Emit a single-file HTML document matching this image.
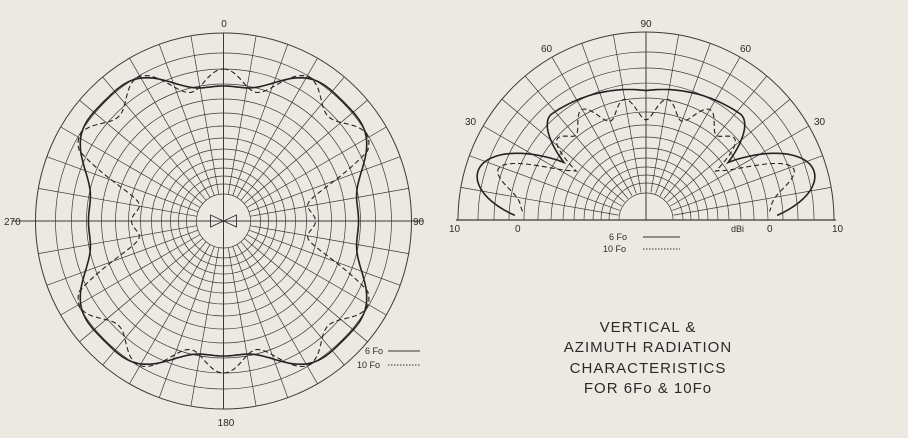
<!DOCTYPE html>
<html><head><meta charset="utf-8"><style>
html,body{margin:0;padding:0;background:#ece9e2;}
svg{display:block}
text{font-family:"Liberation Sans",sans-serif;fill:#2a2a2a}
</style></head><body>
<svg id="s" width="908" height="438" viewBox="0 0 908 438" xmlns="http://www.w3.org/2000/svg">
<rect width="908" height="438" fill="#ece9e2"/>
<g id="g"></g>
<text x="224" y="27" font-size="10" text-anchor="middle">0</text>
<text x="226" y="426" font-size="10" text-anchor="middle">180</text>
<text x="4" y="225" font-size="10">270</text>
<text x="413" y="225" font-size="10">90</text>
<text x="365" y="354" font-size="9">6 Fo</text>
<line x1="388" y1="351" x2="420" y2="351" stroke="#333" stroke-width="1"/>
<text x="357" y="368" font-size="9">10 Fo</text>
<line x1="388" y1="365" x2="420" y2="365" stroke="#333" stroke-width="1" stroke-dasharray="1.5 1.5"/>
<text x="646" y="27" font-size="10" text-anchor="middle">90</text>
<text x="541" y="52" font-size="10">60</text>
<text x="740" y="52" font-size="10">60</text>
<text x="465" y="125" font-size="10">30</text>
<text x="814" y="125" font-size="10">30</text>
<text x="449" y="232" font-size="10">10</text>
<text x="515" y="232" font-size="10">0</text>
<text x="731" y="232" font-size="9">dBi</text>
<text x="767" y="232" font-size="10">0</text>
<text x="832" y="232" font-size="10">10</text>
<text x="609" y="240" font-size="9">6 Fo</text>
<line x1="643" y1="237" x2="680" y2="237" stroke="#333" stroke-width="1"/>
<text x="603" y="252" font-size="9">10 Fo</text>
<line x1="643" y1="249" x2="680" y2="249" stroke="#333" stroke-width="1" stroke-dasharray="1.5 1.5"/>
<g font-size="15" text-anchor="middle" letter-spacing="1">
<text x="648" y="332">VERTICAL &amp;</text>
<text x="648" y="352">AZIMUTH RADIATION</text>
<text x="648" y="373">CHARACTERISTICS</text>
<text x="648" y="393">FOR 6Fo &amp; 10Fo</text>
</g>
</svg>
<script>
var g=document.getElementById('g'),h='';
var R=[27,37,45,53,62,72,83,95,108,122,137,152,168,188];
function ln(x1,y1,x2,y2,w){h+='<line x1="'+x1.toFixed(1)+'" y1="'+y1.toFixed(1)+'" x2="'+x2.toFixed(1)+'" y2="'+y2.toFixed(1)+'" stroke="#3a3a3a" stroke-width="'+(w||0.8)+'"/>';}
var cx=223.5,cy=221;
R.forEach(function(r,i){h+='<circle cx="'+cx+'" cy="'+cy+'" r="'+r+'" fill="none" stroke="#3a3a3a" stroke-width="'+(i==R.length-1?1:0.7)+'"/>';});
for(var a=0;a<360;a+=10){var t=a*Math.PI/180,s=Math.sin(t),c=-Math.cos(t);var r0=(a%90==0)?0:27;ln(cx+r0*s,cy+r0*c,cx+188*s,cy+188*c,a%90==0?1:0.7);}
ln(cx-188,cy,cx-200-12,cy,1);ln(cx+188,cy,cx+200,cy,1);
h+='<path d="M'+(cx-13)+' '+(cy-6)+'L'+cx+' '+cy+'L'+(cx-13)+' '+(cy+6)+'ZM'+(cx+13)+' '+(cy-6)+'L'+cx+' '+cy+'L'+(cx+13)+' '+(cy+6)+'Z" fill="none" stroke="#333" stroke-width="0.9"/>';
function poly(f,cx,cy,a0,a1,dash){var d='';for(var a=a0;a<=a1;a+=1){var t=a*Math.PI/180,r=f(t);d+=(d?'L':'M')+(cx+r*Math.sin(t)).toFixed(1)+' '+(cy-r*Math.cos(t)).toFixed(1);}
h+='<path d="'+d+'" fill="none" stroke="#222" stroke-width="'+(dash?1.1:1.6)+'"'+(dash?' stroke-dasharray="5 3"':'')+'/>';}
poly(function(t){return 152-20*Math.cos(4*t)+3*Math.cos(12*t);},cx,cy,0,360,false);
poly(function(t){var r=150+12*Math.cos(12*t)+10*Math.cos(4*t)*-1;var d=Math.abs(Math.sin(t));if(d>0.9)r-= (d-0.9)/0.1*60;return r;},cx,cy,0,360,true);
var ex=646,ey=220;
R.forEach(function(r,i){h+='<path d="M'+(ex-r)+' '+ey+'A'+r+' '+r+' 0 0 1 '+(ex+r)+' '+ey+'" fill="none" stroke="#3a3a3a" stroke-width="'+(i==R.length-1?1:0.7)+'"/>';});
ln(ex-190,ey,ex+190,ey,1.2);
for(var a=-90;a<=90;a+=10){var t=a*Math.PI/180,s=Math.sin(t),c=-Math.cos(t);var r0=a==0?0:28;ln(ex+r0*s,ey+r0*c,ex+188*s,ey+188*c,a==0?1:0.7);}
function ev(t){var e=90-Math.abs(t*180/Math.PI);var r;if(e<=34){r=95+80*Math.sin(Math.PI*(e+4)/40);}else{var u=Math.min(1,(e-34)/14);r=95+47*Math.sin(u*Math.PI/2)-0.3*Math.max(0,e-48);}return Math.max(r,20);}
poly(ev,ex,ey,-88,88,false);
poly(function(t){var e=90-Math.abs(t*180/Math.PI);var r=ev(t)*0.85+10*Math.cos(e*Math.PI/10);return r;},ex,ey,-86,86,true);
g.innerHTML=h;
</script>
</body></html>
